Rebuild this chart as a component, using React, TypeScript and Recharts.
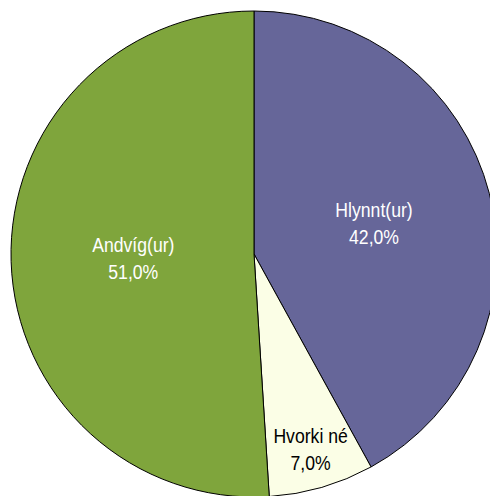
import React from "react";
import { PieChart, Pie, Cell } from "recharts";

const names = ["Hlynnt(ur)", "Hvorki né", "Andvíg(ur)"];
const values = [42.0, 7.0, 51.0];
const colors = ["#666699", "#FBFEE6", "#7FA53C"];
const textColors = ["#FFFFFF", "#000000", "#FFFFFF"];
const labelRadius = [0.51, 0.835, 0.497];

const data = names.map((n, i) => ({ name: n, value: values[i] }));
const RAD = Math.PI / 180;

const renderLabel = (props: any) => {
  const { cx, cy, midAngle, outerRadius, index, value } = props;
  const r = outerRadius * labelRadius[index];
  const x = cx + r * Math.cos(-midAngle * RAD);
  const y = cy + r * Math.sin(-midAngle * RAD);
  const pct = value.toFixed(1).replace(".", ",") + "%";
  return (
    <g transform={`translate(${x},${y}) scale(0.84,1)`}>
      <text
        x={0}
        y={0}
        fill={textColors[index]}
        textAnchor="middle"
        fontSize={21}
        fontFamily="'Liberation Sans Narrow', 'Arial Narrow', 'Liberation Sans', Arial, sans-serif"
      >
        <tspan x={0} dy={-6}>{names[index]}</tspan>
        <tspan x={0} dy={27}>{pct}</tspan>
      </text>
    </g>
  );
};

export default function App() {
  return (
    <div style={{ position: "absolute", left: 0, top: 0, width: 490, height: 496, background: "#fff", overflow: "hidden" }}>
      <PieChart width={520} height={520} margin={{ top: 0, right: 0, bottom: 0, left: 0 }}>
        <Pie
          data={data}
          dataKey="value"
          nameKey="name"
          cx={254}
          cy={254}
          outerRadius={243}
          startAngle={90}
          endAngle={-270}
          stroke="#000"
          strokeWidth={1}
          label={renderLabel}
          labelLine={false}
          isAnimationActive={false}
        >
          {data.map((d, i) => (
            <Cell key={d.name} fill={colors[i]} />
          ))}
        </Pie>
      </PieChart>
    </div>
  );
}
